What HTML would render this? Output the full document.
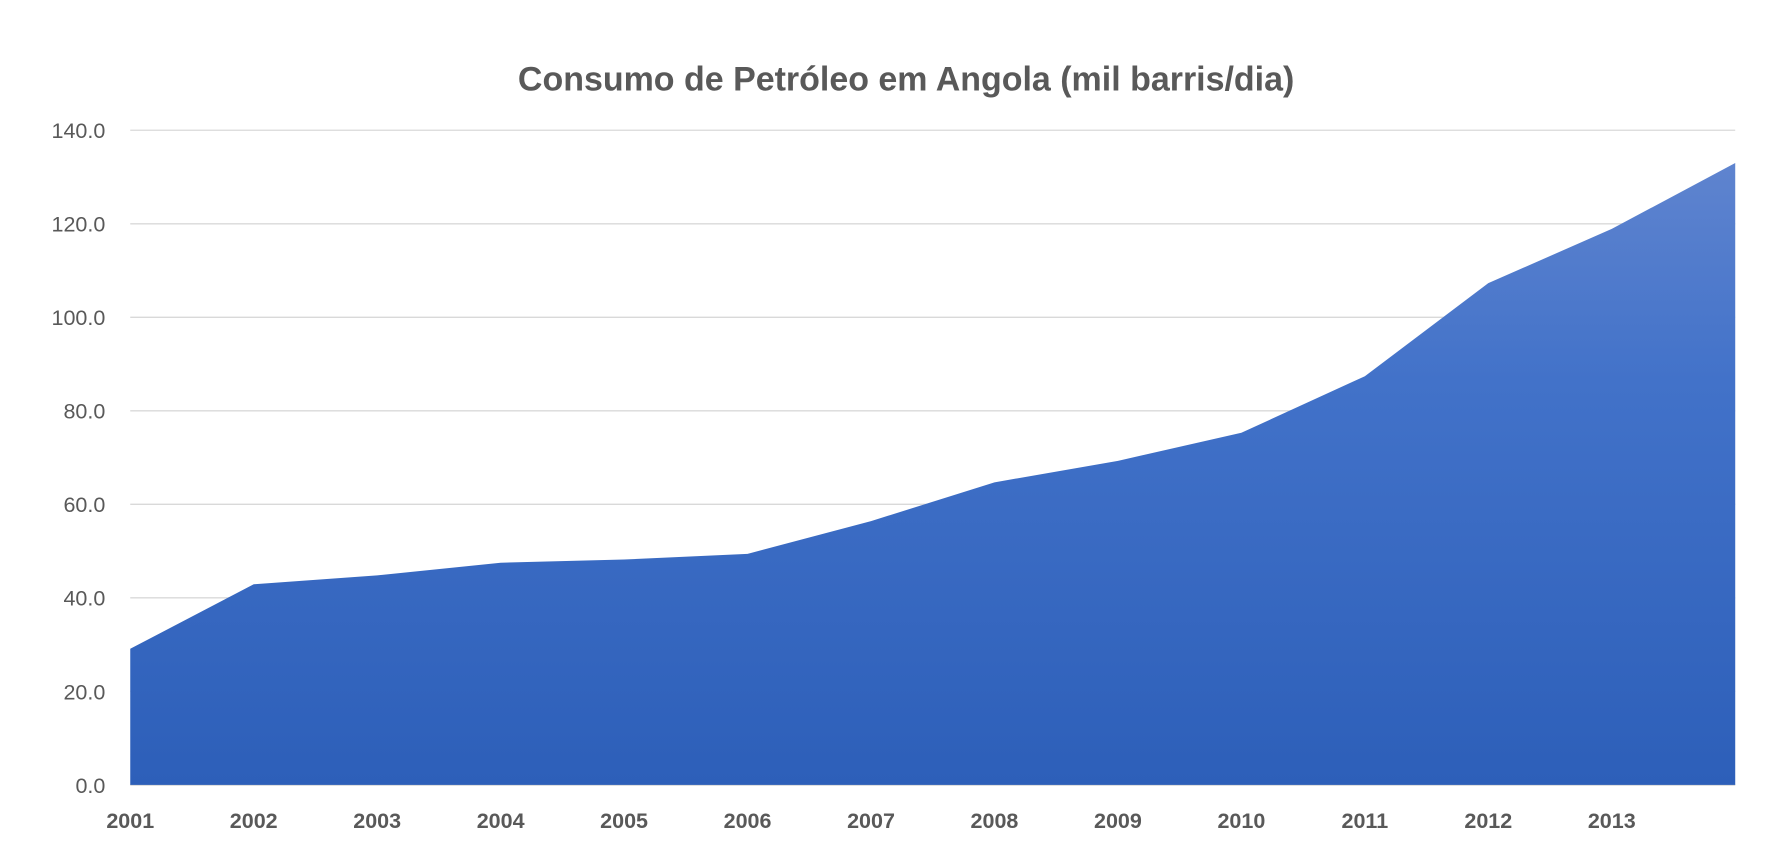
<!DOCTYPE html>
<html><head><meta charset="utf-8"><style>
html,body{margin:0;padding:0;background:#fff;}
svg{display:block;font-family:"Liberation Sans",Arial,sans-serif;}
</style></head><body>
<svg id="chart" width="1776" height="863" viewBox="0 0 1568 762" preserveAspectRatio="none">
<defs><linearGradient id="g" x1="0" y1="0" x2="0" y2="1">
<stop offset="0" stop-color="#5f84cf"/><stop offset="0.35" stop-color="#4272c9"/><stop offset="1" stop-color="#2d5fb9"/></linearGradient></defs>
<text x="800" y="80" text-anchor="middle" font-size="30" font-weight="bold" fill="#595959">Consumo de Petróleo em Angola (mil barris/dia)</text>
<g id="grid"></g><g id="area"></g><g id="yl"></g><g id="xl"></g>
</svg>
<script>
const years=["2001","2002","2003","2004","2005","2006","2007","2008","2009","2010","2011","2012","2013",""];
const values=[29.1,42.9,44.8,47.5,48.2,49.4,56.4,64.7,69.3,75.3,87.4,107.3,118.9,133.0];
const yTicks=[0,20,40,60,80,100,120,140];
const ns="http://www.w3.org/2000/svg";
const x0=115,x1=1532,yB=693,yT=115,yMax=140;
function xs(i){return x0+i*(x1-x0)/(values.length-1);}
function ys(v){return yB-v/yMax*(yB-yT);}
function mk(t,a,p){const e=document.createElementNS(ns,t);for(const k in a)e.setAttribute(k,a[k]);document.getElementById(p).appendChild(e);return e;}
yTicks.forEach(v=>{
 const l=mk("line",{x1:x0,x2:x1,y1:ys(v),y2:ys(v),stroke:v===0?"#bfbfbf":"#d9d9d9","stroke-width":1.2},"grid");
 
 
 const t=mk("text",{x:93,y:ys(v)+7,"text-anchor":"end","font-size":19,fill:"#595959"},"yl");
 t.textContent=v.toFixed(1);
 
 
});
let d="M"+xs(0)+","+yB;
values.forEach((v,i)=>{d+=" L"+xs(i)+","+ys(v);});
d+=" L"+xs(values.length-1)+","+yB+" Z";
const p=mk("path",{d:d,fill:"url(#g)"},"area");


years.forEach((y,i)=>{
 if(!y)return;
 const t=mk("text",{x:xs(i),y:731,"text-anchor":"middle","font-size":19,"font-weight":"bold",fill:"#595959"},"xl");
 t.textContent=y;
 
 
});
</script>
</body></html>
